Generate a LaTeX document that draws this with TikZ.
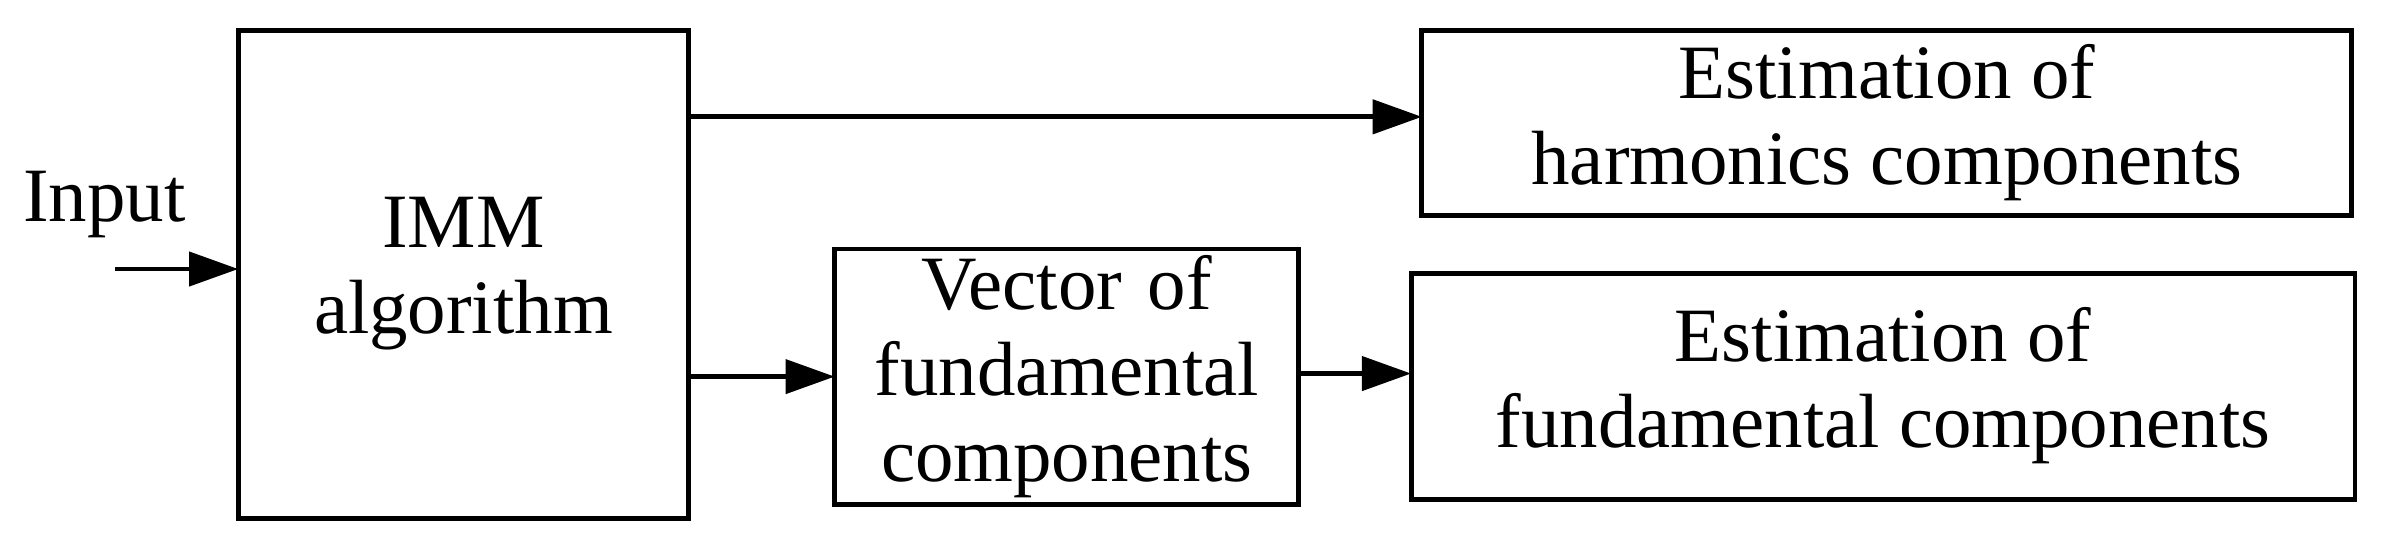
\documentclass[tikz,border=0pt]{standalone}
\usepackage{fontspec}
\setmainfont{Liberation Serif}
\usetikzlibrary{arrows.meta}
\begin{document}
\begin{tikzpicture}[x=0.5pt,y=-0.5pt,
  box/.style={draw,line width=1.6pt,inner sep=0pt},
  lbl/.style={font=\fontsize{25}{28}\selectfont,align=center},
  arr/.style={line width=1.6pt,-{Triangle[length=16pt,width=11pt]}}]
\useasboundingbox (0,0) rectangle (1560,355);
\draw[box] (155,20) rectangle (448,337);
\node[lbl] (imm) at (301.5,178) {IMM\\algorithm};
\coordinate (immE1) at (448,76);
\coordinate (immE2) at (448,245);
\draw[box] (925,20) rectangle (1530,140);
\node[lbl] (h) at (1227.5,80) {Estimation of\\harmonics components};
\coordinate (hW) at (925,76);
\draw[box] (543,162) rectangle (845,328);
\node[lbl,text width=290pt] (v) at (694,245) {Vector of\\fundamental\\components};
\coordinate (vW) at (543,245);
\coordinate (vE) at (845,243);
\draw[box] (918,178) rectangle (1532,325);
\node[lbl] (f) at (1225,251) {Estimation of\\fundamental components};
\coordinate (fW) at (918,243);
\node[lbl,anchor=west] (in) at (8,133) {Input};
\coordinate (inS) at (75,175);
\coordinate (immW) at (155,175);
\draw[arr] (inS) -- (immW);
\draw[arr] (immE1) -- (hW);
\draw[arr] (immE2) -- (vW);
\draw[arr] (vE) -- (fW);
\end{tikzpicture}
\end{document}
